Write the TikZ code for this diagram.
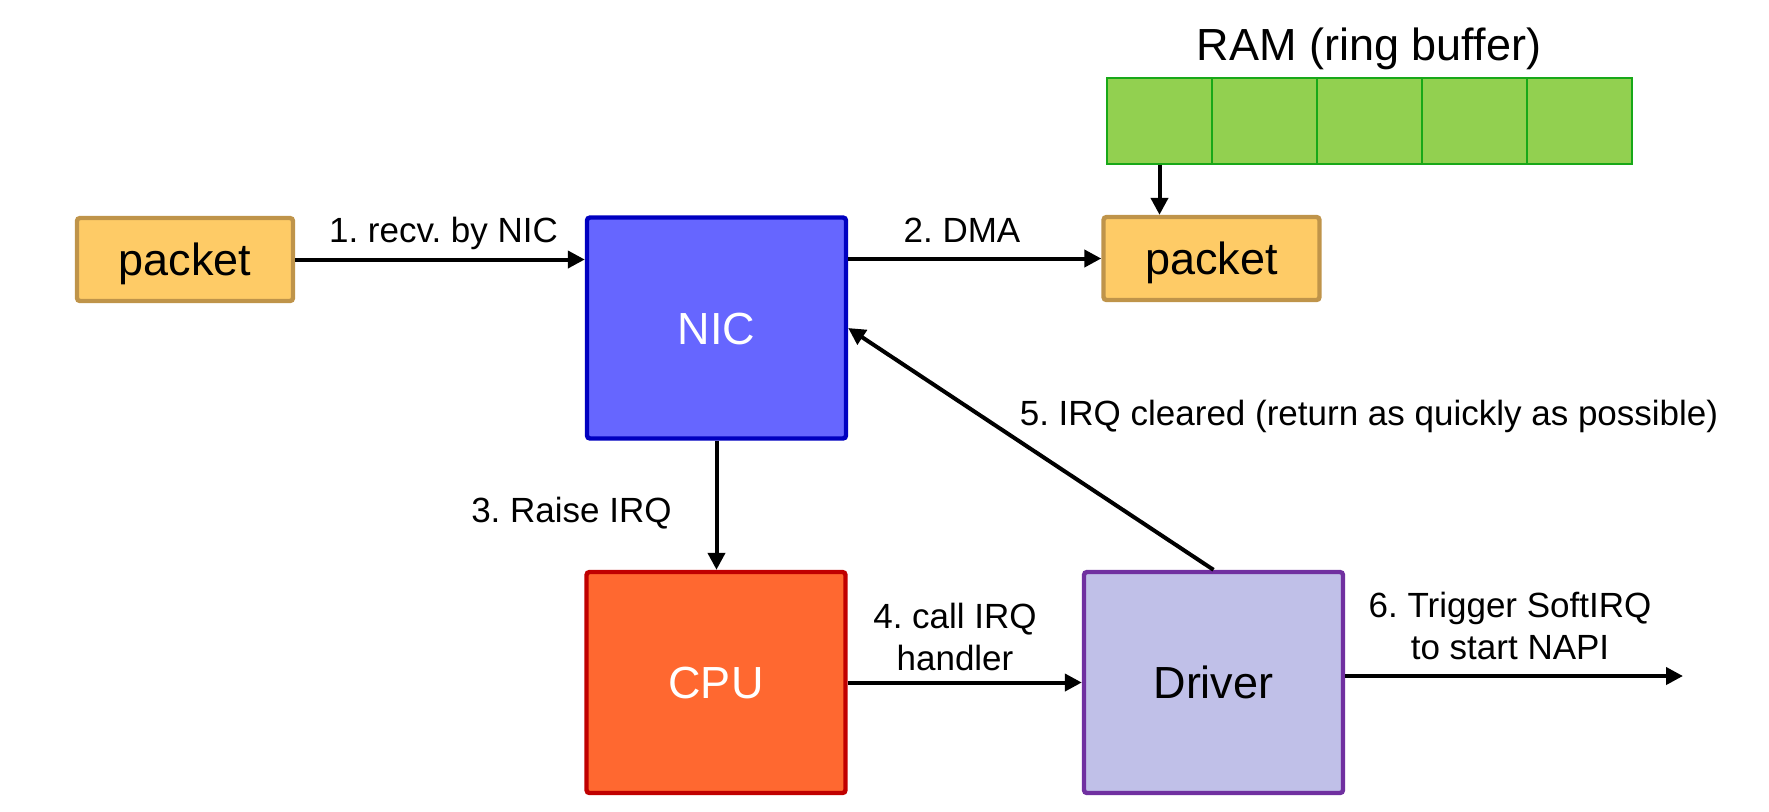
\documentclass[tikz,border=0pt]{standalone}
\usepackage{fontspec}
\setmainfont{Liberation Sans}
\usetikzlibrary{arrows.meta}
\frenchspacing
\definecolor{pktfill}{HTML}{FECB66}
\definecolor{pktdraw}{HTML}{BF944A}
\definecolor{nicfill}{HTML}{6666FF}
\definecolor{nicdraw}{HTML}{0000C0}
\definecolor{cpufill}{HTML}{FF6830}
\definecolor{cpudraw}{HTML}{C00000}
\definecolor{drvfill}{HTML}{C0C0E8}
\definecolor{drvdraw}{HTML}{7030A0}
\definecolor{ramfill}{HTML}{92D050}
\definecolor{ramdraw}{HTML}{18A818}
\begin{document}
\begin{tikzpicture}[x=0.5pt,y=-0.5pt,
  bigfont/.style={font=\fontsize{22.5}{27}\selectfont},
  box/.style={rectangle, line width=2.2pt, inner sep=0pt, rounded corners=1.5pt, bigfont, text height=16.1pt, text depth=0pt},
  pktbox/.style={box, fill=pktfill, draw=pktdraw, minimum width=108pt, minimum height=41.5pt},
  bigbox/.style={box, minimum width=129.5pt, minimum height=110.5pt},
  cell/.style={rectangle, fill=ramfill, draw=ramdraw, line width=1.1pt, minimum width=52.5pt, minimum height=43pt, inner sep=0pt},
  lbl/.style={font=\fontsize{17.5}{21}\selectfont\frenchspacing, inner sep=0pt, align=center},
  arr/.style={line width=2pt, -{Triangle[length=8.5pt,width=8.5pt]}},
]
\path[use as bounding box] (0,0) rectangle (1769,811);

\node[pktbox] (pkt1) at (185,259.5) {packet};
\node[bigbox, fill=nicfill, draw=nicdraw, text=white] (nic) at (716.5,328) {NIC};
\node[pktbox] (pkt2) at (1211.5,258.5) {packet};
\node[bigbox, fill=cpufill, draw=cpudraw, text=white] (cpu) at (716,682.5) {CPU};
\node[bigbox, fill=drvfill, draw=drvdraw] (drv) at (1213.5,682.5) {Driver};

\foreach \i/\x in {1/1159.5,2/1264.5,3/1369.5,4/1474.5,5/1579.5}
  \node[cell] (c\i) at (\x,121) {};
\node[anchor=base, bigfont, inner sep=0pt] (ramlbl) at (1369,60) {RAM (ring buffer)};

\coordinate (out) at (1683,676);

\draw[arr] (pkt1.east) -- (pkt1.east -| nic.west);
\draw[arr] (nic.east |- pkt2.west) -- (pkt2.west);
\draw[arr] (c1.south) -- (c1.south |- pkt2.north);
\draw[arr] (nic.south) -- (nic.south |- cpu.north);
\draw[arr] (cpu.east) -- (drv.west);
\draw[arr] (drv.north) -- (nic.east);
\draw[arr] (drv.east |- out) -- (out);

\node[lbl, anchor=base] (l1) at (443.5,242) {1. recv. by NIC};
\node[lbl, anchor=base] (l2) at (962,242) {2. DMA};
\node[lbl, anchor=base east] (l3) at (672,522) {3. Raise IRQ};
\node[lbl, anchor=base] (l4) at (955,670) {4. call IRQ\\handler};
\node[lbl, anchor=base] (l5) at (1369,425) {5. IRQ cleared (return as quickly as possible)};
\node[lbl, anchor=base] (l6) at (1510,659) {6. Trigger SoftIRQ\\to start NAPI};
\end{tikzpicture}
\end{document}
